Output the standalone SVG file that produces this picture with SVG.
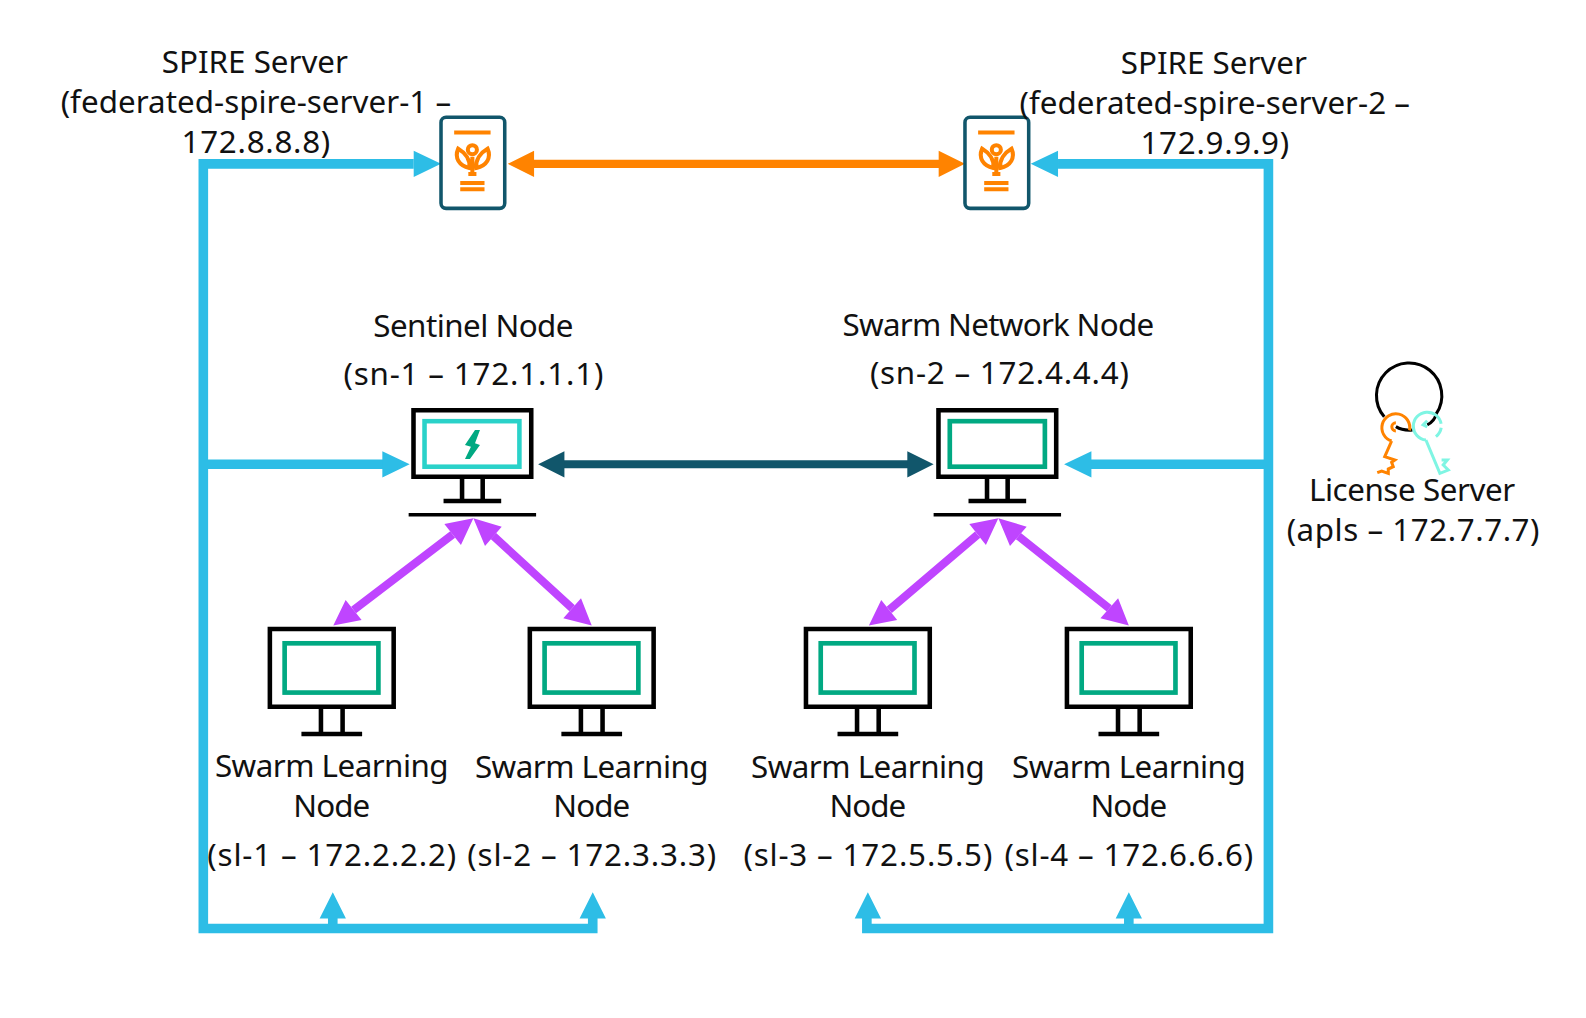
<svg xmlns="http://www.w3.org/2000/svg" width="1586" height="1018" viewBox="0 0 1586 1018">
<style>
text{font-family:"Noto Sans","Liberation Sans",sans-serif;font-size:31px;fill:#111;text-anchor:middle}
.mon{fill:none;stroke:#000;stroke-width:4.500}
.scr{fill:none;stroke:#01a982;stroke-width:4.600}
.org{fill:none;stroke:#ff8300;stroke-width:4}
.blue{fill:none;stroke:#2dbde6;stroke-width:9.500}
.key{fill:none;stroke-width:3}
</style>
<defs>
<g id="monitor"><path class="mon" d="M-61.200-51.200H61.200V25.800H-61.200ZM-10.700 25.800V52.600M10.700 25.800V52.600M-30 52.600H30"/></g>
<g id="monitor-s"><path class="mon" d="M-58.200-52.500H58.200V13.300H-58.200ZM-10.200 13.300V37.300M10.200 13.300V37.300M-28.500 37.300H28.500"/><path d="M-63 51H63" stroke="#000" stroke-width="3.500"/></g>
<g id="badge">
<rect x="-31" y="-45" width="63" height="90" rx="5" fill="#fff" stroke="#11566b" stroke-width="3.500"/>
<path class="org" d="M-18-30H18M-12 20H12M-12 26H12"/>
<circle cx="0" cy="-13" r="4.500" class="org"/>
<path class="org" d="M-14-14C-18-5-13 3-3 5C-2-3-7-10-14-14ZM15-14C19-5 14 3 4 5C3-3 8-10 15-14ZM0-6V10M-4 11H4"/>
</g>
</defs>
<g transform="scale(1.0115)">
<g id="connectors">
<path class="blue" d="M409 162H201V918H586V905M329 918V905M201 459H382M1046 162H1254V918H857V905M1116 918V905M1254 459H1078"/>
<path fill="#2dbde6" d="M436 162L409 149V175ZM1019 162L1046 149V175ZM405 459L378 446V472ZM1052 459L1079 446V472ZM329 882L316 908H342ZM586 882L573 908H599ZM858 882L845 908H871ZM1116 882L1103 908H1129Z"/>
<path stroke="#ff8300" stroke-width="8" d="M525 162H930"/>
<path fill="#ff8300" d="M502 162L528 149V175ZM954 162L928 149V175Z"/>
<path stroke="#11566b" stroke-width="8" d="M555 459H900"/>
<path fill="#11566b" d="M532 459L558 446V472ZM923 459L897 446V472Z"/>
<path stroke="#bf45ff" stroke-width="8" d="M447.500 528.500L349.600 603M487.800 530L565.600 601.400M966.500 528.500L879.100 603M1006.800 530L1096.600 601.400"/>
<path fill="#bf45ff" d="M468 512.400L439.300 518.100L455.700 538.800ZM468 512.400L496 520.700L479.500 539.800ZM329.500 618.500L341.700 593.200L357.500 613ZM585 618.500L574.400 591.500L556.900 611.300ZM987 512.400L958.300 518.100L974.700 538.800ZM987 512.400L1015 520.700L998.500 539.800ZM859 618.500L871.200 593.200L887 613ZM1116 618.500L1105.400 591.500L1087.900 611.300Z"/>
</g>
<g id="spire-1"><use href="#badge" x="467" y="161"/><text x="252" y="72" textLength="184">SPIRE Server</text><text x="253" y="112" textLength="386">(federated-spire-server-1 –</text><text x="253" y="151" textLength="147">172.8.8.8)</text></g>
<g id="spire-2"><use href="#badge" x="985" y="161"/><text x="1200" y="73" textLength="184">SPIRE Server</text><text x="1201" y="113" textLength="386">(federated-spire-server-2 –</text><text x="1201" y="152" textLength="147">172.9.9.9)</text></g>
<g id="sentinel"><use href="#monitor-s" x="467" y="458"/><rect x="419.700" y="416.400" width="93.800" height="45" fill="none" stroke="#2ad2c9" stroke-width="4.500"/>
<path d="M469.600 425H474.500L469.600 438.300L474.500 440L464.600 453.800H459.700L465.600 441.600L459.700 440Z" fill="#01a982"/>
<text x="468" y="333" textLength="198">Sentinel Node</text><text x="468" y="381" textLength="257">(sn-1 – 172.1.1.1)</text></g>
<g id="swarm-network"><use href="#monitor-s" x="986" y="458"/><rect x="939" y="416.400" width="94" height="45" class="scr"/>
<text x="987" y="332" textLength="308">Swarm Network Node</text><text x="988" y="380" textLength="256">(sn-2 – 172.4.4.4)</text></g>
<g id="license">
<path class="key" stroke="#000" d="M1368.500 412A32.300 32.300 0 1 1 1420 409Q1418 417 1411 420M1380 421.800Q1387 426 1396.500 425.100"/>
<path class="key" stroke="#ff8300" d="M1375.800 436A13.800 13.800 0 1 1 1393.500 425.500M1375.800 436L1369 451.500L1379 454.800L1375.800 457L1377.400 461.400L1372.500 463.700L1372.500 468L1366 465.700L1361.600 467.300M1380 418A4 4 0 0 0 1380 426"/>
<path class="key" stroke="#7ff5e3" d="M1409.700 435A13.800 13.800 0 1 1 1424.700 419M1424.800 423A13.800 13.800 0 0 1 1419.600 431.700M1409.700 435L1423.500 468L1431.800 464.700L1426.800 459.700L1430.800 454.800L1425.200 454.800M1411 416L1407 420L1411 422"/>
<text x="1396" y="495" textLength="204">License Server</text><text x="1397" y="535" textLength="250">(apls – 172.7.7.7)</text></g>
<g id="sl-1"><use href="#monitor" x="328" y="673"/><rect x="281.400" y="636" width="92.700" height="48.700" class="scr"/><text x="328" y="768" textLength="231">Swarm Learning</text><text x="328" y="808" textLength="76">Node</text><text x="328" y="856" textLength="246">(sl-1 – 172.2.2.2)</text></g>
<g id="sl-2"><use href="#monitor" x="585" y="673"/><rect x="538.400" y="636" width="92.700" height="48.700" class="scr"/><text x="585" y="769" textLength="231">Swarm Learning</text><text x="585" y="808" textLength="76">Node</text><text x="585" y="856" textLength="246">(sl-2 – 172.3.3.3)</text></g>
<g id="sl-3"><use href="#monitor" x="858" y="673"/><rect x="811.400" y="636" width="92.700" height="48.700" class="scr"/><text x="858" y="769" textLength="231">Swarm Learning</text><text x="858" y="808" textLength="76">Node</text><text x="858" y="856" textLength="246">(sl-3 – 172.5.5.5)</text></g>
<g id="sl-4"><use href="#monitor" x="1116" y="673"/><rect x="1069.400" y="636" width="92.700" height="48.700" class="scr"/><text x="1116" y="769" textLength="231">Swarm Learning</text><text x="1116" y="808" textLength="76">Node</text><text x="1116" y="856" textLength="246">(sl-4 – 172.6.6.6)</text></g>
</g>
</svg>
